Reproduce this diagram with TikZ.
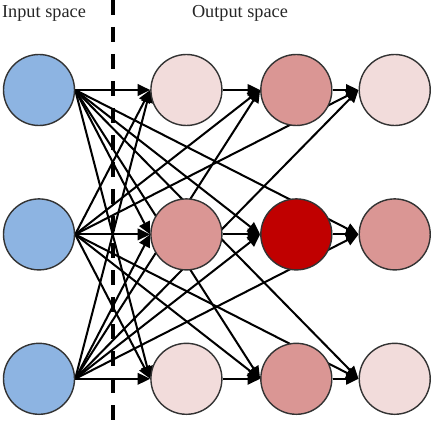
\documentclass[tikz,border=0pt]{standalone}
\usepackage{fontspec}
\setmainfont{Liberation Serif}
\usepackage{xcolor}
\usetikzlibrary{arrows.meta, positioning, backgrounds}

\definecolor{inblue}{RGB}{141,180,226}
\definecolor{palered}{RGB}{242,220,219}
\definecolor{midred}{RGB}{218,150,148}
\definecolor{deepred}{RGB}{192,0,0}

\begin{document}
\begin{tikzpicture}[
    node distance=1.44cm and 1.5cm,
    neuron/.style={circle, draw=black!80, line width=0.8pt, minimum size=1.42cm, inner sep=0pt},
    inneuron/.style={neuron, fill=inblue},
    paleneuron/.style={neuron, fill=palered},
    midneuron/.style={neuron, fill=midred},
    hotneuron/.style={neuron, fill=deepred},
    link/.style={-{Triangle[length=0.25cm, width=0.23cm]}, line width=1.15pt},
    divider/.style={line width=2.3pt, dash pattern=on 0.3cm off 0.24cm},
    spacelabel/.style={font=\fontsize{10.4}{12}\selectfont, text=black!85}
]
\useasboundingbox (0,0) rectangle (8.74,8.78);

% Input neurons
\node[inneuron] (In1) at (0.78,6.98) {};
\node[inneuron, below=of In1] (In2) {};
\node[inneuron, below=of In2] (In3) {};

% First output column
\node[paleneuron, right=1.5cm of In1] (Hid1) {};
\node[midneuron, right=1.5cm of In2] (Hid2) {};
\node[paleneuron, right=1.5cm of In3] (Hid3) {};

% Second output column
\node[midneuron, right=0.75cm of Hid1] (Deep1) {};
\node[hotneuron, right=0.75cm of Hid2] (Deep2) {};
\node[midneuron, right=0.75cm of Hid3] (Deep3) {};

% Third output column
\node[paleneuron, right=0.52cm of Deep1] (Out1) {};
\node[midneuron, right=0.52cm of Deep2] (Out2) {};
\node[paleneuron, right=0.52cm of Deep3] (Out3) {};

% Labels
\node[spacelabel] (InLabel) at (0.88,8.52) {Input space};
\node[spacelabel] (OutLabel) at (4.8,8.52) {Output space};

\begin{scope}[on background layer]
% Edges Input -> first column
\draw[link] (In1.east) -- (Hid1.west);
\draw[link] (In1.east) -- (Hid2.west);
\draw[link] (In1.east) -- (Hid3.west);
\draw[link] (In2.east) -- (Hid1.west);
\draw[link] (In2.east) -- (Hid2.west);
\draw[link] (In2.east) -- (Hid3.west);
\draw[link] (In3.east) -- (Hid1.west);
\draw[link] (In3.east) -- (Hid2.west);
\draw[link] (In3.east) -- (Hid3.west);

% Edges into second column
\draw[link] (Hid1.east) -- (Deep1.west);
\draw[link] (Hid2.east) -- (Deep2.west);
\draw[link] (Hid3.east) -- (Deep3.west);
\draw[link] (In2.east) -- (Deep1.west);
\draw[link] (In3.east) -- (Deep1.west);
\draw[link] (In1.east) -- (Deep2.west);
\draw[link] (In3.east) -- (Deep2.west);
\draw[link] (In1.east) -- (Deep3.west);
\draw[link] (In2.east) -- (Deep3.west);

% Edges into third column
\draw[link] (Deep1.east) -- (Out1.west);
\draw[link] (Deep2.east) -- (Out2.west);
\draw[link] (Deep3.east) -- (Out3.west);
\draw[link] (In2.east) -- (Out1.west);
\draw[link] (In3.east) -- (Out1.west);
\draw[link] (In1.east) -- (Out2.west);
\draw[link] (In3.east) -- (Out2.west);
\draw[link] (In1.east) -- (Out3.west);
\draw[link] (In2.east) -- (Out3.west);
\end{scope}

% Divider between spaces
\coordinate (DivTop) at (2.26,8.78);
\coordinate (DivBot) at (2.26,0.24);
\draw[divider] (DivTop) -- (DivBot);

\end{tikzpicture}
\end{document}
